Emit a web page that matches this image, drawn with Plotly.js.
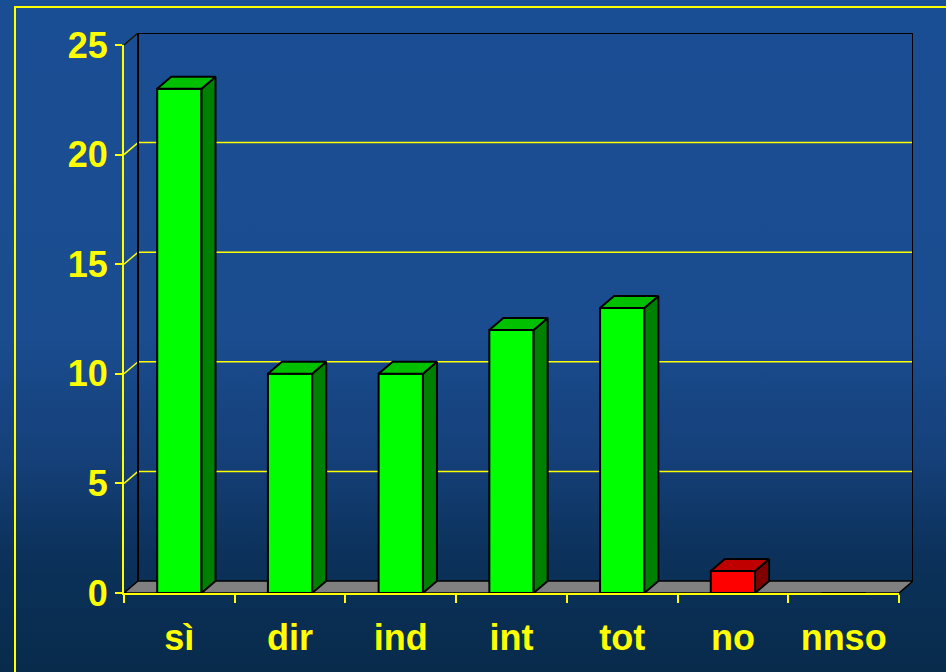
<!DOCTYPE html>
<html>
<head>
<meta charset="utf-8">
<script src="https://cdn.plot.ly/plotly-3.0.1.min.js"></script>
<style>
  html, body { margin: 0; padding: 0; width: 946px; height: 672px; overflow: hidden; }
  body { background: linear-gradient(to bottom, #1a4e94 0%, #1a4c8f 50%, #154079 68%, #0c325c 82%, #082b4b 100%); position: relative; }
  #frame { position: absolute; left: 14px; top: 6px; width: 960px; height: 700px; border-top: 2px solid #ffff00; border-left: 2px solid #ffff00; }
  #chart { position: absolute; left: 0; top: 0; width: 946px; height: 672px; }
</style>
</head>
<body>
<div id="frame"></div>
<div id="chart"></div>
<script>
// ---- data ----
const categories = ['sì', 'dir', 'ind', 'int', 'tot', 'no', 'nnso'];
const values = [23, 10, 10, 12, 13, 1, 0];
const yTickValues = [0, 5, 10, 15, 20, 25];
const yMax = 25;

// ---- styles / geometry ----
const YELLOW = '#ffff00';
const FONT = { family: 'Arial, "Liberation Sans", sans-serif', size: 36, color: YELLOW, weight: 'bold' };
const GREEN = { front: '#00ff00', top: '#00c000', side: '#008000' };
const RED = { front: '#ff0000', top: '#c00000', side: '#800000' };
const styleFor = c => (c === 'no' ? RED : GREEN);

const M = { l: 124, r: 33, t: 33, b: 79 };
const plotW = 946 - M.l - M.r;   // 789
const plotH = 672 - M.t - M.b;   // 560
const depthX = 14, depthY = 12;  // 3D depth in pixels
const frontW = plotW - depthX, frontH = plotH - depthY;
const n = categories.length;
const DX = depthX / (frontW / n);
const DY = depthY / (frontH / yMax);
const barW = 0.4;
const EDGE = { color: '#000', width: 2 };

const traces = [];

// front faces
traces.push({
  type: 'bar',
  x: categories.map((c, i) => i),
  y: values,
  width: barW,
  marker: { color: categories.map(c => styleFor(c).front), line: EDGE },
  hoverinfo: 'skip', showlegend: false, xaxis: 'x', yaxis: 'y'
});

// side & top faces
values.forEach((v, i) => {
  if (v <= 0) return;
  const s = styleFor(categories[i]);
  const r = i + barW / 2, l = i - barW / 2;
  traces.push({
    type: 'scatter', mode: 'lines', fill: 'toself', fillcolor: s.side,
    x: [r, r + DX, r + DX, r, r],
    y: [0, DY, v + DY, v, 0],
    line: EDGE, hoverinfo: 'skip', showlegend: false
  });
  traces.push({
    type: 'scatter', mode: 'lines', fill: 'toself', fillcolor: s.top,
    x: [l, l + DX, r + DX, r, l],
    y: [v, v + DY, v + DY, v, v],
    line: EDGE, hoverinfo: 'skip', showlegend: false
  });
});

// dummy trace to draw the front axes
traces.push({
  type: 'scatter', mode: 'markers', x: categories, y: values,
  marker: { opacity: 0 }, hoverinfo: 'skip', showlegend: false, xaxis: 'x2', yaxis: 'y2'
});

// background shapes (floor, wall, grid)
const shapes = [];
const x0 = -0.5, x1 = n - 0.5;
shapes.push({
  type: 'path', layer: 'below', xref: 'x', yref: 'y',
  path: `M ${x0} 0 L ${x1} 0 L ${x1 + DX} ${DY} L ${x0 + DX} ${DY} Z`,
  fillcolor: '#808080', line: { color: '#000', width: 1.5 }
});
yTickValues.forEach(t => {
  if (t > 0 && t < yMax) {
    shapes.push({ type: 'line', layer: 'below', xref: 'x', yref: 'y',
      x0: x0 + DX, y0: t + DY, x1: x1 + DX, y1: t + DY, line: { color: YELLOW, width: 1.5 } });
    shapes.push({ type: 'line', layer: 'below', xref: 'x', yref: 'y',
      x0: x0, y0: t, x1: x0 + DX, y1: t + DY, line: { color: YELLOW, width: 1.5 } });
  }
});
shapes.push({ type: 'line', layer: 'below', xref: 'x', yref: 'y',
  x0: x0, y0: yMax, x1: x0 + DX, y1: yMax + DY, line: { color: '#1a1a00', width: 1.5 } });
shapes.push({
  type: 'path', layer: 'below', xref: 'x', yref: 'y',
  path: `M ${x0 + DX} ${DY} L ${x0 + DX} ${yMax + DY} L ${x1 + DX} ${yMax + DY} L ${x1 + DX} ${DY}`,
  line: { color: '#000', width: 2 }
});

const layout = {
  width: 946, height: 672,
  margin: M,
  paper_bgcolor: 'rgba(0,0,0,0)',
  plot_bgcolor: 'rgba(0,0,0,0)',
  showlegend: false,
  xaxis: { domain: [0, 1], range: [x0, x1 + DX], visible: false, fixedrange: true },
  yaxis: { domain: [0, 1], range: [0, yMax + DY], visible: false, fixedrange: true },
  xaxis2: {
    domain: [0, frontW / plotW], anchor: 'y2', type: 'category',
    categoryorder: 'array', categoryarray: categories, range: [x0, x1],
    showline: true, linecolor: YELLOW, linewidth: 2,
    ticks: 'outside', tickson: 'boundaries', ticklen: 8, tickwidth: 2, tickcolor: YELLOW,
    ticklabelstandoff: 12,
    showgrid: false, zeroline: false, tickfont: FONT, fixedrange: true
  },
  yaxis2: {
    domain: [0, frontH / plotH], anchor: 'x2', range: [0, yMax],
    tickvals: yTickValues, showline: true, linecolor: YELLOW, linewidth: 2,
    ticks: 'outside', ticklen: 7, tickwidth: 2, tickcolor: YELLOW,
    showgrid: false, zeroline: false, tickfont: FONT, fixedrange: true
  },
  shapes: shapes
};

Plotly.newPlot('chart', traces, layout, { displayModeBar: false, staticPlot: true });
</script>
</body>
</html>
